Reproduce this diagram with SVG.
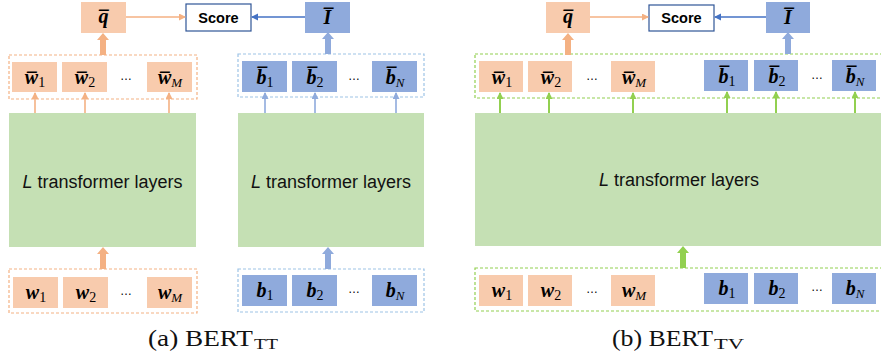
<svg xmlns="http://www.w3.org/2000/svg" xmlns:xlink="http://www.w3.org/1999/xlink" width="881" height="360" viewBox="0 0 881 360">
<style>
.or{fill:#F8CBAD}
.bl{fill:#8FAADC}
.gr{fill:#C5E0B4}
.dor{fill:none;stroke:#F4B183;stroke-width:1.2;stroke-dasharray:3 2}
.dbl{fill:none;stroke:#9DC3E6;stroke-width:1.2;stroke-dasharray:3 2}
.dgr{fill:none;stroke:#92D050;stroke-width:1.2;stroke-dasharray:3 2}
.m{font-family:"Liberation Serif","DejaVu Serif",serif;font-weight:bold;font-style:italic;font-size:20px;fill:#000;text-anchor:middle}
.s{font-weight:normal;font-style:normal;font-size:14px}
.si{font-weight:normal;font-style:italic;font-size:13px}
.dots{font-family:"Liberation Sans",sans-serif;font-size:12px;fill:#000;text-anchor:middle}
.tl{font-family:"Liberation Sans",sans-serif;font-size:18px;fill:#111;text-anchor:middle}
.sc{font-family:"Liberation Sans",sans-serif;font-weight:bold;font-size:14.5px;fill:#000;text-anchor:middle}
.cap{font-family:"Liberation Serif",serif;font-size:23px;fill:#111}
.capsub{font-family:"Liberation Serif",serif;font-size:15px;fill:#111}
.ao{stroke:#F4B183;stroke-width:1.6;fill:none}
.ab{stroke:#8FAADC;stroke-width:1.6;fill:none}
.ag{stroke:#92D050;stroke-width:2;fill:none}
</style>
<defs>
<marker id="mo" markerUnits="userSpaceOnUse" markerWidth="8" markerHeight="8" refX="6" refY="3.5" orient="auto"><path d="M0,0 L7,3.5 L0,7 z" fill="#F4B183"/></marker>
<marker id="mb" markerUnits="userSpaceOnUse" markerWidth="8" markerHeight="8" refX="6" refY="3.5" orient="auto"><path d="M0,0 L7,3.5 L0,7 z" fill="#8FAADC"/></marker>
<marker id="mg" markerUnits="userSpaceOnUse" markerWidth="8" markerHeight="8" refX="6" refY="3.5" orient="auto"><path d="M0,0 L7,3.5 L0,7 z" fill="#92D050"/></marker>
<marker id="md" markerUnits="userSpaceOnUse" markerWidth="8" markerHeight="8" refX="6" refY="3.5" orient="auto"><path d="M0,0 L7,3.5 L0,7 z" fill="#4472C4"/></marker>
<path id="thick" d="M0,0 L6,7 L3,7 L3,22 L-3,22 L-3,7 L-6,7 Z"/>
</defs>

<!-- ===== (a) BERT_TT ===== -->
<g id="a-qbar"><rect class="or" x="81" y="2" width="45" height="31"/><text class="m" x="103.5" y="23">q̅</text></g>
<g id="a-score"><rect x="186" y="4" width="65" height="27" fill="#fff" stroke="#2F5597" stroke-width="1.2"/><text class="sc" x="218.5" y="22.5">Score</text></g>
<g id="a-ibar"><rect class="bl" x="305" y="2" width="45" height="31"/><text class="m" x="327.5" y="24">I̅</text></g>

<g id="a-wbar-group"><rect class="dor" x="9" y="55" width="188" height="44"/>
<rect class="or" x="12" y="62" width="45" height="30"/><text class="m" x="35" y="84">w̅<tspan class="s" dy="3">1</tspan></text>
<rect class="or" x="62" y="62" width="45" height="30"/><text class="m" x="85" y="84">w̅<tspan class="s" dy="3">2</tspan></text>
<text class="dots" x="126" y="80">…</text>
<rect class="or" x="147" y="62" width="45" height="30"/><text class="m" x="170" y="84">w̅<tspan class="si" dy="3">M</tspan></text>
</g>
<g id="a-bbar-group"><rect class="dbl" x="238" y="54" width="186" height="43"/>
<rect class="bl" x="242" y="61" width="45" height="31"/><text class="m" x="265" y="84">b̅<tspan class="s" dy="3">1</tspan></text>
<rect class="bl" x="292" y="61" width="45" height="31"/><text class="m" x="315" y="84">b̅<tspan class="s" dy="3">2</tspan></text>
<text class="dots" x="354" y="80">…</text>
<rect class="bl" x="372" y="61" width="45" height="31"/><text class="m" x="395" y="84">b̅<tspan class="si" dy="3">N</tspan></text>
</g>

<g id="a-trans-text"><rect class="gr" x="9" y="113" width="187" height="134"/><text class="tl" x="102.5" y="188"><tspan font-style="italic">L</tspan> transformer layers</text></g>
<g id="a-trans-img"><rect class="gr" x="238" y="113" width="186" height="134"/><text class="tl" x="331" y="188"><tspan font-style="italic">L</tspan> transformer layers</text></g>

<g id="a-w-group"><rect class="dor" x="9" y="269" width="188" height="44"/>
<rect class="or" x="13" y="277" width="45" height="31"/><text class="m" x="36" y="299">w<tspan class="s" dy="3">1</tspan></text>
<rect class="or" x="63" y="277" width="45" height="31"/><text class="m" x="86" y="299">w<tspan class="s" dy="3">2</tspan></text>
<text class="dots" x="126" y="295">…</text>
<rect class="or" x="147" y="277" width="45" height="31"/><text class="m" x="170" y="299">w<tspan class="si" dy="3">M</tspan></text>
</g>
<g id="a-b-group"><rect class="dbl" x="238" y="269" width="186" height="43"/>
<rect class="bl" x="242" y="275" width="45" height="31"/><text class="m" x="265" y="297">b<tspan class="s" dy="3">1</tspan></text>
<rect class="bl" x="292" y="275" width="45" height="31"/><text class="m" x="315" y="297">b<tspan class="s" dy="3">2</tspan></text>
<text class="dots" x="354" y="293">…</text>
<rect class="bl" x="372" y="275" width="45" height="31"/><text class="m" x="395" y="297">b<tspan class="si" dy="3">N</tspan></text>
</g>

<!-- ===== (b) BERT_TV ===== -->
<g id="b-qbar"><rect class="or" x="546" y="2" width="44" height="31"/><text class="m" x="568" y="23">q̅</text></g>
<g id="b-score"><rect x="649" y="5" width="65" height="26" fill="#fff" stroke="#2F5597" stroke-width="1.2"/><text class="sc" x="681.5" y="23">Score</text></g>
<g id="b-ibar"><rect class="bl" x="766" y="2" width="44" height="31"/><text class="m" x="788" y="24">I̅</text></g>

<g id="b-bar-group"><rect class="dgr" x="475" y="54" width="408" height="44"/>
<rect class="or" x="479" y="61" width="44" height="31"/><text class="m" x="502" y="84">w̅<tspan class="s" dy="3">1</tspan></text>
<rect class="or" x="528" y="61" width="44" height="31"/><text class="m" x="551" y="84">w̅<tspan class="s" dy="3">2</tspan></text>
<text class="dots" x="592" y="80">…</text>
<rect class="or" x="611" y="61" width="44" height="31"/><text class="m" x="634" y="84">w̅<tspan class="si" dy="3">M</tspan></text>
<rect class="bl" x="704" y="60" width="44" height="31"/><text class="m" x="727" y="83">b̅<tspan class="s" dy="3">1</tspan></text>
<rect class="bl" x="754" y="60" width="44" height="31"/><text class="m" x="777" y="83">b̅<tspan class="s" dy="3">2</tspan></text>
<text class="dots" x="817" y="79">…</text>
<rect class="bl" x="832" y="60" width="44" height="31"/><text class="m" x="855" y="83">b̅<tspan class="si" dy="3">N</tspan></text>
</g>

<g id="b-trans"><rect class="gr" x="475" y="113" width="406" height="133"/><text class="tl" x="679" y="186"><tspan font-style="italic">L</tspan> transformer layers</text></g>

<g id="b-input-group"><rect class="dgr" x="475" y="268" width="408" height="43"/>
<rect class="or" x="479" y="275" width="44" height="31"/><text class="m" x="502" y="297">w<tspan class="s" dy="3">1</tspan></text>
<rect class="or" x="528" y="275" width="44" height="31"/><text class="m" x="551" y="297">w<tspan class="s" dy="3">2</tspan></text>
<text class="dots" x="592" y="293">…</text>
<rect class="or" x="611" y="275" width="44" height="31"/><text class="m" x="634" y="297">w<tspan class="si" dy="3">M</tspan></text>
<rect class="bl" x="704" y="273" width="44" height="31"/><text class="m" x="727" y="295">b<tspan class="s" dy="3">1</tspan></text>
<rect class="bl" x="754" y="273" width="44" height="31"/><text class="m" x="777" y="295">b<tspan class="s" dy="3">2</tspan></text>
<text class="dots" x="817" y="291">…</text>
<rect class="bl" x="832" y="273" width="44" height="31"/><text class="m" x="855" y="295">b<tspan class="si" dy="3">N</tspan></text>
</g>

<!-- ===== connectors ===== -->
<g id="connectors">
<line class="ao" x1="126" y1="17" x2="185" y2="17" marker-end="url(#mo)"/>
<line x1="305" y1="17" x2="252" y2="17" stroke="#4472C4" stroke-width="1.6" marker-end="url(#md)"/>
<line class="ao" x1="590" y1="17" x2="648" y2="17" marker-end="url(#mo)"/>
<line x1="766" y1="17" x2="715" y2="17" stroke="#4472C4" stroke-width="1.6" marker-end="url(#md)"/>

<use xlink:href="#thick" x="103" y="33" fill="#F4B183"/>
<use xlink:href="#thick" x="328" y="32" fill="#8FAADC"/>
<use xlink:href="#thick" x="103" y="247" fill="#F4B183"/>
<use xlink:href="#thick" x="328" y="247" fill="#8FAADC"/>
<use xlink:href="#thick" x="568" y="33" fill="#F4B183"/>
<use xlink:href="#thick" x="788" y="32" fill="#8FAADC"/>
<use xlink:href="#thick" x="683" y="246" fill="#92D050"/>

<line class="ao" x1="35" y1="113" x2="35" y2="93" marker-end="url(#mo)"/>
<line class="ao" x1="85" y1="113" x2="85" y2="93" marker-end="url(#mo)"/>
<line class="ao" x1="169" y1="113" x2="169" y2="93" marker-end="url(#mo)"/>
<line class="ab" x1="265" y1="113" x2="265" y2="93" marker-end="url(#mb)"/>
<line class="ab" x1="315" y1="113" x2="315" y2="93" marker-end="url(#mb)"/>
<line class="ab" x1="396" y1="113" x2="396" y2="93" marker-end="url(#mb)"/>

<line class="ag" x1="500" y1="113" x2="500" y2="93" marker-end="url(#mg)"/>
<line class="ag" x1="549" y1="113" x2="549" y2="93" marker-end="url(#mg)"/>
<line class="ag" x1="633" y1="113" x2="633" y2="93" marker-end="url(#mg)"/>
<line class="ag" x1="727" y1="113" x2="727" y2="92" marker-end="url(#mg)"/>
<line class="ag" x1="776" y1="113" x2="776" y2="92" marker-end="url(#mg)"/>
<line class="ag" x1="855" y1="113" x2="855" y2="92" marker-end="url(#mg)"/>
</g>

<!-- captions -->
<text class="cap" x="148" y="346" textLength="105" lengthAdjust="spacingAndGlyphs">(a) BERT</text>
<text class="capsub" x="254" y="349" textLength="24" lengthAdjust="spacingAndGlyphs">TT</text>
<text class="cap" x="612" y="346" textLength="101" lengthAdjust="spacingAndGlyphs">(b) BERT</text>
<text class="capsub" x="714" y="349" textLength="30" lengthAdjust="spacingAndGlyphs">TV</text>
</svg>
